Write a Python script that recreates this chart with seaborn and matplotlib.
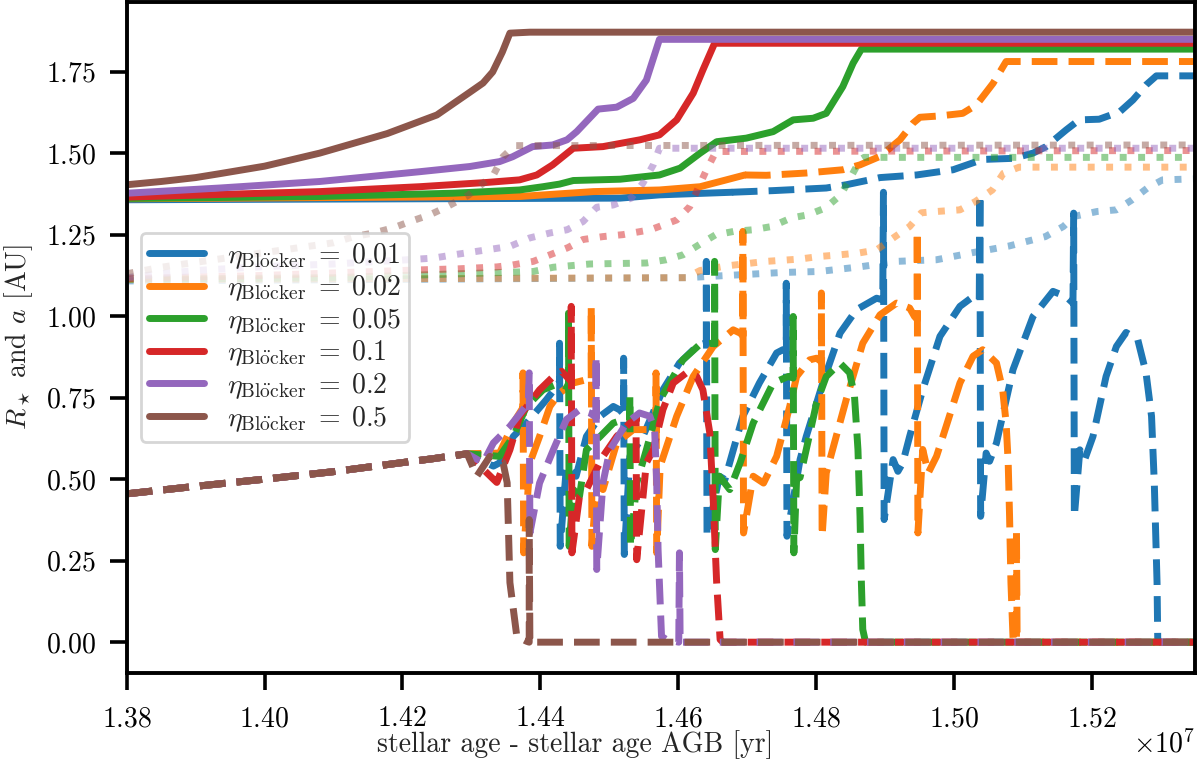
import numpy as np
import pandas as pd
import matplotlib
matplotlib.use("Agg")
import matplotlib.pyplot as plt
import seaborn as sns

# eta_Bloecker values (one colour each)
etas = ["0.01", "0.02", "0.05", "0.1", "0.2", "0.5"]

# x in units of 1e7 yr, y in AU

# orbit a, solid part
a_solid = {
    "0.01": [(1.380, 1.357), (1.4516, 1.362), (1.4573, 1.372), (1.4678, 1.380)],
    "0.02": [(1.380, 1.360), (1.437, 1.367), (1.4477, 1.382), (1.4573, 1.387), (1.4632, 1.397),
             (1.4670, 1.418), (1.4697, 1.433)],
    "0.05": [(1.380, 1.361), (1.408, 1.367), (1.4273, 1.377), (1.437, 1.387), (1.4404, 1.397),
             (1.4428, 1.405), (1.4448, 1.416), (1.4516, 1.420), (1.4573, 1.433), (1.4603, 1.454),
             (1.4632, 1.500), (1.4656, 1.535), (1.4699, 1.546), (1.4738, 1.566), (1.4767, 1.602),
             (1.4796, 1.607), (1.4815, 1.622), (1.4839, 1.704), (1.4854, 1.776), (1.4866, 1.819),
             (1.535, 1.819)],
    "0.1": [(1.380, 1.365), (1.408, 1.382), (1.4225, 1.397), (1.4322, 1.410), (1.437, 1.418),
            (1.4395, 1.433), (1.4418, 1.464), (1.4448, 1.515), (1.4491, 1.520), (1.4545, 1.541),
            (1.4573, 1.556), (1.4598, 1.602), (1.4622, 1.684), (1.4636, 1.755), (1.4653, 1.837),
            (1.535, 1.837)],
    "0.2": [(1.380, 1.377), (1.3935, 1.393), (1.408, 1.413), (1.4225, 1.443), (1.4298, 1.459),
            (1.4341, 1.474), (1.436, 1.489), (1.4389, 1.520), (1.4418, 1.525), (1.4439, 1.541),
            (1.4453, 1.566), (1.4484, 1.635), (1.4511, 1.641), (1.4535, 1.668), (1.4554, 1.724),
            (1.4573, 1.849), (1.535, 1.849)],
    "0.5": [(1.380, 1.403), (1.385, 1.413), (1.390, 1.425), (1.3935, 1.437), (1.400, 1.460),
            (1.408, 1.500), (1.4178, 1.560), (1.425, 1.617), (1.4298, 1.687), (1.4317, 1.715),
            (1.4331, 1.749), (1.4345, 1.810), (1.4356, 1.868), (1.4385, 1.871), (1.535, 1.871)],
}

# orbit a, dashed continuation
a_dashed = {
    "0.01": [(1.4678, 1.380), (1.4738, 1.385), (1.4815, 1.393), (1.4844, 1.403), (1.4878, 1.418),
             (1.4893, 1.425), (1.4946, 1.433), (1.4999, 1.449), (1.5033, 1.474), (1.5047, 1.481),
             (1.5086, 1.484), (1.5115, 1.500), (1.5134, 1.520), (1.5163, 1.571), (1.5182, 1.602),
             (1.5211, 1.604), (1.5241, 1.627), (1.5260, 1.663), (1.5279, 1.709), (1.5294, 1.737),
             (1.535, 1.737)],
    "0.02": [(1.4697, 1.433), (1.4728, 1.432), (1.4786, 1.439), (1.4839, 1.449), (1.4864, 1.464),
             (1.4893, 1.490), (1.4922, 1.541), (1.4941, 1.592), (1.4951, 1.610), (1.4979, 1.614),
             (1.5013, 1.622), (1.5033, 1.648), (1.5057, 1.714), (1.5076, 1.781), (1.535, 1.781)],
}

# stellar radius, shared early part
r_common = [(1.380, 0.455), (1.390, 0.478), (1.400, 0.500), (1.410, 0.523), (1.4197, 0.550),
            (1.4245, 0.563), (1.4294, 0.578)]

# stellar radius, after thermal pulses start
r_tail = {
    "0.01": [(1.4332, 0.540), (1.4341, 0.550), (1.4361, 0.631), (1.4380, 0.672), (1.4409, 0.744),
             (1.4424, 0.785), (1.4428, 0.800), (1.4428, 0.917), (1.4429, 0.294), (1.4438, 0.540),
             (1.4452, 0.509), (1.4467, 0.631), (1.4487, 0.693), (1.4506, 0.723), (1.4515, 0.713),
             (1.4521, 0.700), (1.4521, 0.871), (1.4522, 0.269), (1.4530, 0.570), (1.4549, 0.631),
             (1.4578, 0.774), (1.4602, 0.856), (1.4627, 0.907), (1.4639, 0.917), (1.4641, 0.915),
             (1.4641, 1.168), (1.4642, 0.325), (1.4660, 0.509), (1.4668, 0.499), (1.4694, 0.693),
             (1.4718, 0.795), (1.4743, 0.887), (1.4752, 0.897), (1.4757, 0.890), (1.4757, 1.101),
             (1.4758, 0.325), (1.4777, 0.560), (1.4786, 0.631), (1.4810, 0.795), (1.4835, 0.948),
             (1.4859, 1.020), (1.4888, 1.055), (1.4897, 1.050), (1.4898, 1.380), (1.4899, 0.376),
             (1.4912, 0.560), (1.4919, 0.524), (1.4926, 0.550), (1.4936, 0.631), (1.4955, 0.774),
             (1.4980, 0.938), (1.5009, 1.030), (1.5028, 1.060), (1.5037, 1.050), (1.5038, 1.372),
             (1.5039, 0.386), (1.5047, 0.580), (1.5052, 0.555), (1.5062, 0.611), (1.5086, 0.836),
             (1.5115, 0.999), (1.5144, 1.076), (1.5163, 1.060), (1.5173, 1.040), (1.5174, 1.316),
             (1.5175, 0.386), (1.5183, 0.590), (1.5190, 0.560), (1.5202, 0.631), (1.5221, 0.815),
             (1.5236, 0.907), (1.5250, 0.950), (1.5267, 0.928), (1.5279, 0.826), (1.5287, 0.693),
             (1.5291, 0.488), (1.5295, 0.182), (1.5296, 0.008), (1.5300, 0.0), (1.535, 0.0)],
    "0.02": [(1.4341, 0.580), (1.4361, 0.672), (1.4373, 0.713), (1.4375, 0.720), (1.4375, 0.826),
             (1.4376, 0.274), (1.4385, 0.550), (1.4399, 0.631), (1.4414, 0.723), (1.4428, 0.764),
             (1.4448, 0.795), (1.4467, 0.805), (1.4474, 0.800), (1.4474, 1.030), (1.4475, 0.294),
             (1.4482, 0.488), (1.4491, 0.468), (1.4511, 0.611), (1.4535, 0.652), (1.4559, 0.652),
             (1.4568, 0.640), (1.4568, 0.826), (1.4569, 0.274), (1.4574, 0.540), (1.4598, 0.693),
             (1.4622, 0.815), (1.4651, 0.907), (1.4680, 0.958), (1.4690, 0.948), (1.4694, 0.940),
             (1.4694, 1.260), (1.4695, 0.335), (1.4709, 0.509), (1.4724, 0.488), (1.4743, 0.570),
             (1.4762, 0.723), (1.4772, 0.815), (1.4791, 0.866), (1.4801, 0.871), (1.4808, 0.860),
             (1.4808, 1.071), (1.4809, 0.325), (1.4815, 0.519), (1.4844, 0.744), (1.4868, 0.917),
             (1.4893, 1.004), (1.4917, 1.040), (1.4936, 1.025), (1.4943, 0.999), (1.4947, 0.990),
             (1.4947, 1.260), (1.4948, 0.335), (1.4955, 0.591), (1.4963, 0.519), (1.4975, 0.570),
             (1.4989, 0.662), (1.5009, 0.795), (1.5028, 0.877), (1.5042, 0.897), (1.5062, 0.856),
             (1.5071, 0.774), (1.5076, 0.672), (1.5079, 0.550), (1.5081, 0.386), (1.5083, 0.182),
             (1.5086, 0.013), (1.5091, 0.0), (1.5091, 0.345), (1.5092, 0.0), (1.535, 0.0)],
    "0.05": [(1.4341, 0.570), (1.4361, 0.631), (1.4380, 0.723), (1.4404, 0.774), (1.4428, 0.795),
             (1.4438, 0.784), (1.4441, 0.780), (1.4441, 1.009), (1.4442, 0.294), (1.4448, 0.468),
             (1.4457, 0.448), (1.4467, 0.590), (1.4487, 0.631), (1.4506, 0.672), (1.4521, 0.683),
             (1.4530, 0.680), (1.4530, 0.754), (1.4531, 0.294), (1.4540, 0.488), (1.4554, 0.590),
             (1.4574, 0.744), (1.4607, 0.866), (1.4631, 0.912), (1.4649, 0.917), (1.4653, 0.915),
             (1.4653, 1.168), (1.4654, 0.284), (1.4660, 0.509), (1.4675, 0.468), (1.4690, 0.550),
             (1.4709, 0.672), (1.4738, 0.795), (1.4760, 0.815), (1.4767, 0.810), (1.4767, 0.999),
             (1.4768, 0.274), (1.4772, 0.500), (1.4777, 0.505), (1.4786, 0.591), (1.4801, 0.734),
             (1.4815, 0.815), (1.4835, 0.856), (1.4849, 0.826), (1.4856, 0.754), (1.4861, 0.591),
             (1.4864, 0.386), (1.4866, 0.182), (1.4868, 0.039), (1.4872, 0.0), (1.535, 0.0)],
    "0.1": [(1.4332, 0.500), (1.4337, 0.490), (1.4356, 0.590), (1.4370, 0.693), (1.4399, 0.774),
            (1.4419, 0.815), (1.4431, 0.831), (1.4438, 0.815), (1.4445, 0.800), (1.4445, 1.030),
            (1.4446, 0.274), (1.4457, 0.448), (1.4467, 0.468), (1.4491, 0.570), (1.4511, 0.631),
            (1.4530, 0.672), (1.4539, 0.680), (1.4539, 0.693), (1.4540, 0.253), (1.4554, 0.550),
            (1.4564, 0.590), (1.4578, 0.713), (1.4593, 0.795), (1.4612, 0.826), (1.4627, 0.815),
            (1.4636, 0.774), (1.4646, 0.642), (1.4651, 0.437), (1.4656, 0.182), (1.4661, 0.008),
            (1.4665, 0.0), (1.535, 0.0)],
    "0.2": [(1.4317, 0.550), (1.4332, 0.611), (1.4356, 0.662), (1.4375, 0.713), (1.4383, 0.734),
            (1.4384, 0.826), (1.4385, 0.335), (1.4399, 0.488), (1.4419, 0.590), (1.4438, 0.683),
            (1.4457, 0.713), (1.4472, 0.703), (1.4481, 0.690), (1.4481, 0.877), (1.4482, 0.223),
            (1.4491, 0.488), (1.4501, 0.590), (1.4525, 0.672), (1.4544, 0.703), (1.4559, 0.693),
            (1.4566, 0.652), (1.4569, 0.488), (1.4571, 0.284), (1.4576, 0.018), (1.4583, 0.008),
            (1.4601, 0.0), (1.4602, 0.274), (1.4603, 0.0), (1.535, 0.0)],
    "0.5": [(1.4308, 0.509), (1.4327, 0.570), (1.4346, 0.551), (1.4352, 0.489), (1.4356, 0.183),
            (1.4366, 0.018), (1.4380, 0.003), (1.4384, 0.0), (1.4384, 0.376), (1.4385, 0.0),
            (1.535, 0.0)],
}

# faint dotted curves
dotted = {
    "0.01": [(1.380, 1.108), (1.4612, 1.118), (1.4752, 1.134), (1.4805, 1.137), (1.4863, 1.151),
             (1.4893, 1.160), (1.4917, 1.168), (1.4975, 1.173), (1.5028, 1.195), (1.508, 1.215),
             (1.5133, 1.244), (1.5159, 1.275), (1.5175, 1.306), (1.5208, 1.321), (1.5236, 1.326),
             (1.5259, 1.357), (1.5281, 1.393), (1.5303, 1.418), (1.535, 1.421)],
    "0.02": [(1.380, 1.112), (1.4612, 1.118), (1.4632, 1.140), (1.467, 1.154), (1.4728, 1.168),
             (1.4776, 1.175), (1.4805, 1.183), (1.4834, 1.188), (1.4863, 1.194), (1.4888, 1.203),
             (1.4915, 1.244), (1.4936, 1.275), (1.4953, 1.317), (1.4975, 1.321), (1.5009, 1.326),
             (1.5031, 1.351), (1.5056, 1.387), (1.5072, 1.438), (1.5095, 1.457), (1.535, 1.457)],
    "0.05": [(1.380, 1.113), (1.410, 1.118), (1.4390, 1.137), (1.4419, 1.150), (1.4472, 1.160),
             (1.4554, 1.163), (1.4583, 1.173), (1.4607, 1.188), (1.4635, 1.225), (1.4654, 1.249),
             (1.4681, 1.260), (1.4709, 1.265), (1.4736, 1.275), (1.4764, 1.301), (1.4789, 1.311),
             (1.4814, 1.332), (1.4836, 1.372), (1.485, 1.424), (1.4864, 1.479), (1.487, 1.487),
             (1.535, 1.487)],
    "0.1": [(1.380, 1.115), (1.400, 1.125), (1.4226, 1.142), (1.428, 1.145), (1.4337, 1.151),
            (1.436, 1.157), (1.439, 1.168), (1.4414, 1.188), (1.444, 1.210), (1.4462, 1.235),
            (1.4491, 1.244), (1.452, 1.250), (1.456, 1.265), (1.4598, 1.295), (1.4617, 1.336),
            (1.464, 1.443), (1.4655, 1.505), (1.535, 1.508)],
    "0.2": [(1.380, 1.118), (1.385, 1.130), (1.390, 1.140), (1.400, 1.152), (1.410, 1.160),
            (1.420, 1.172), (1.4245, 1.178), (1.4274, 1.188), (1.4356, 1.214), (1.4385, 1.240),
            (1.4414, 1.255), (1.4439, 1.265), (1.4462, 1.290), (1.4482, 1.334), (1.4506, 1.341),
            (1.4532, 1.362), (1.4549, 1.408), (1.4564, 1.464), (1.4573, 1.515), (1.535, 1.515)],
    "0.5": [(1.380, 1.130), (1.385, 1.150), (1.390, 1.165), (1.395, 1.180), (1.400, 1.195),
            (1.405, 1.210), (1.410, 1.225), (1.413, 1.244), (1.4158, 1.255), (1.4187, 1.271),
            (1.4211, 1.290), (1.424, 1.311), (1.4265, 1.336), (1.4295, 1.370), (1.4332, 1.433),
            (1.4346, 1.489), (1.4363, 1.523), (1.535, 1.525)],
}

sns.set_style("ticks")
plt.rcParams.update({
    "font.family": "serif",
    "font.serif": ["cmr10"],
    "mathtext.fontset": "cm",
    "axes.formatter.use_mathtext": True,
    "axes.linewidth": 1.4,
    "axes.edgecolor": "black",
    "xtick.major.size": 6,
    "ytick.major.size": 6,
    "xtick.major.width": 1.3,
    "ytick.major.width": 1.3,
    "xtick.major.pad": 6,
    "ytick.major.pad": 5,
    "xtick.color": "black",
    "ytick.color": "black",
    "font.size": 10,
})

colors = sns.color_palette("tab10", 6)
lw = 2.5


def to_df(pts):
    df = pd.DataFrame(pts, columns=["t", "r"])
    df["t"] = df["t"] * 1e7
    return df


fig, ax = plt.subplots(figsize=(6, 3.81), dpi=200)
fig.subplots_adjust(left=0.1056, right=0.9958, bottom=0.1172, top=0.9974)

for eta, c in zip(etas, colors):
    d = to_df(a_solid[eta])
    sns.lineplot(data=d, x="t", y="r", ax=ax, color=c, lw=lw, estimator=None, sort=False,
                 label=r"$\eta_{\mathrm{Bl\ddot{o}cker}}\;=\;" + eta + "$")
    if eta in a_dashed:
        d = to_df(a_dashed[eta])
        sns.lineplot(data=d, x="t", y="r", ax=ax, color=c, lw=lw, ls="--",
                     estimator=None, sort=False)
    d = to_df(r_common + r_tail[eta])
    sns.lineplot(data=d, x="t", y="r", ax=ax, color=c, lw=lw, ls="--",
                 estimator=None, sort=False)
    d = to_df(dotted[eta])
    sns.lineplot(data=d, x="t", y="r", ax=ax, color=c, lw=lw, ls=":", alpha=0.5,
                 estimator=None, sort=False)

ax.set_xlim(1.38e7, 1.535e7)
ax.set_ylim(-0.0936, 1.9636)
ax.set_xticks(np.arange(1.38, 1.5301, 0.02) * 1e7)
ax.set_yticks(np.arange(0, 1.76, 0.25))
ax.set_xlabel("stellar age - stellar age AGB [yr]")
ax.xaxis.set_label_coords(0.42, -0.086)
ax.set_ylabel(r"$R_\star$ and $a$ [AU]", labelpad=4)
ax.xaxis.OFFSETTEXTPAD = -1
ax.legend(loc="center left", fontsize=10, labelspacing=0.1, handlelength=2.0,
          borderpad=0.3, borderaxespad=0.5)

plt.savefig("out.png", dpi=200)
